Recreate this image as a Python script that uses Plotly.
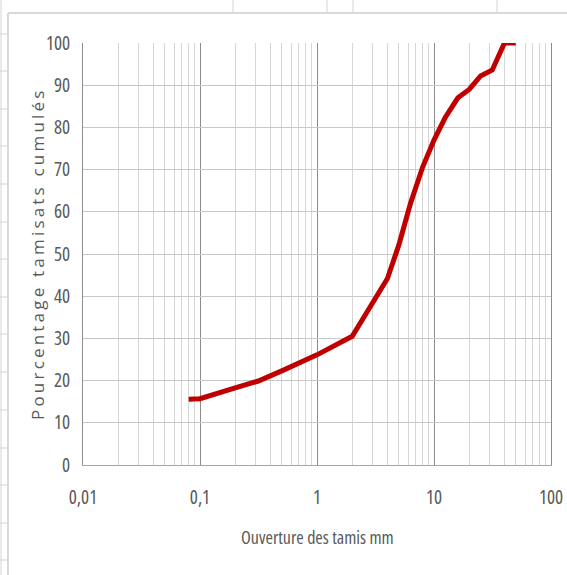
import plotly.graph_objects as go

# Sieve analysis: cumulative passing percentage by sieve opening (mm)
sieve_mm = [0.08, 0.1, 0.2, 0.315, 0.5, 1, 2, 4, 5, 6.3, 8, 10, 12.5, 16, 20, 25, 31.5, 40, 50]
passing_pct = [15.6, 15.7, 18.3, 19.9, 22.3, 26.1, 30.5, 44.2, 52.1, 62.0, 70.6, 77.0,
               82.4, 87.0, 89.0, 92.2, 93.6, 100, 100]

x_tickvals = [0.01, 0.1, 1, 10, 100]
x_ticktext = ["0,01", "0,1", "1", "10", "100"]
y_tickvals = [0, 10, 20, 30, 40, 50, 60, 70, 80, 90, 100]
y_ticktext = ["0", "10", "20", "30", "40", "50", "60", "70", "80", "90", "100"]
x_minor = [0.02, 0.03, 0.04, 0.05, 0.06, 0.07, 0.08, 0.09,
           0.2, 0.3, 0.4, 0.5, 0.6, 0.7, 0.8, 0.9,
           2, 3, 4, 5, 6, 7, 8, 9,
           20, 30, 40, 50, 60, 70, 80, 90]
x_dark = [0.1, 1]

x_title = "Ouverture des tamis mm"
y_title = "Pourcentage tamisats cumulés"

W, H = 567, 575
ML, MR, MT, MB = 83, 16, 43, 110
PW, PH = W - ML - MR, H - MT - MB

GREY_TXT = "#595959"
OPEN = "Open Sans, sans-serif"


def narrow(s):
    return '<span style="font-stretch:condensed">' + s + '</span>'


def px(x):
    return (x - ML) / PW


def py(y):
    return (H - MB - y) / PH


fig = go.Figure()
fig.add_trace(go.Scatter(
    x=sieve_mm, y=passing_pct, mode="lines",
    line=dict(color="#C00000", width=5),
    hoverinfo="skip", showlegend=False,
))

# worksheet cell borders around the embedded chart
cell = "#d4d4d4"
shapes = []
for xv in [233, 327, 353, 497]:
    shapes.append(dict(type="line", xref="paper", yref="paper",
                       x0=px(xv), x1=px(xv), y0=py(0), y1=py(12),
                       line=dict(color=cell, width=1)))
for yv in [34, 71, 109, 146, 184, 222, 259, 297, 334, 372, 410, 448, 485, 523, 560]:
    shapes.append(dict(type="line", xref="paper", yref="paper",
                       x0=px(0), x1=px(8), y0=py(yv), y1=py(yv),
                       line=dict(color=cell, width=1)))
shapes.append(dict(type="line", xref="paper", yref="paper",
                   x0=px(1), x1=px(1), y0=py(0), y1=py(H),
                   line=dict(color=cell, width=1)))
# chart area border
shapes.append(dict(type="line", xref="paper", yref="paper",
                   x0=px(8), x1=px(W), y0=py(13), y1=py(13),
                   line=dict(color="#d9d9d9", width=2)))
shapes.append(dict(type="line", xref="paper", yref="paper",
                   x0=px(8), x1=px(8), y0=py(13), y1=py(H),
                   line=dict(color="#d9d9d9", width=2)))

fig.update_layout(
    width=W, height=H,
    margin=dict(l=ML, r=MR, t=MT, b=MB, pad=0),
    paper_bgcolor="white", plot_bgcolor="white",
    shapes=shapes,
    xaxis=dict(
        type="log", range=[-2, 2], automargin=False,
        tickmode="array", tickvals=x_tickvals, ticktext=[narrow(t) for t in x_ticktext],
        showgrid=True, gridcolor="#8c8c8c", gridwidth=1,
        minor=dict(tickmode="array", tickvals=x_minor, showgrid=True,
                   gridcolor="#d6d6d6", gridwidth=1, ticks=""),
        showline=True, linecolor="#a6a6a6", linewidth=1,
        ticks="", ticklabelstandoff=15,
        tickfont=dict(family=OPEN, size=19, color=GREY_TXT),
        zeroline=False, fixedrange=True,
    ),
    xaxis2=dict(
        type="log", range=[-2, 2], overlaying="x", anchor="y", automargin=False,
        tickmode="array", tickvals=x_dark, showticklabels=False,
        showgrid=True, gridcolor="#262626", gridwidth=1,
        showline=False, ticks="", zeroline=False, fixedrange=True,
    ),
    yaxis=dict(
        range=[0, 100], automargin=False,
        tickmode="array", tickvals=y_tickvals, ticktext=[narrow(t) for t in y_ticktext],
        showgrid=True, gridcolor="#c8c8c8", gridwidth=1,
        showline=True, linecolor="#8c8c8c", linewidth=1, mirror=True,
        ticks="outside", ticklen=8, tickcolor="rgba(0,0,0,0)",
        tickfont=dict(family=OPEN, size=19, color=GREY_TXT),
        zeroline=False, fixedrange=True,
    ),
    annotations=[
        dict(text=narrow(x_title), xref="paper", yref="paper",
             x=0.5, y=py(537), xanchor="center", yanchor="middle",
             showarrow=False, font=dict(family=OPEN, size=18, color=GREY_TXT)),
        dict(text='<span style="letter-spacing:3.2px">' + y_title + '</span>',
             xref="paper", yref="paper", textangle=-90,
             x=px(37), y=py(254), xanchor="center", yanchor="middle",
             showarrow=False, font=dict(family=OPEN, size=17, color=GREY_TXT)),
    ],
)

fig.write_html("out.html", config={"displayModeBar": False})
